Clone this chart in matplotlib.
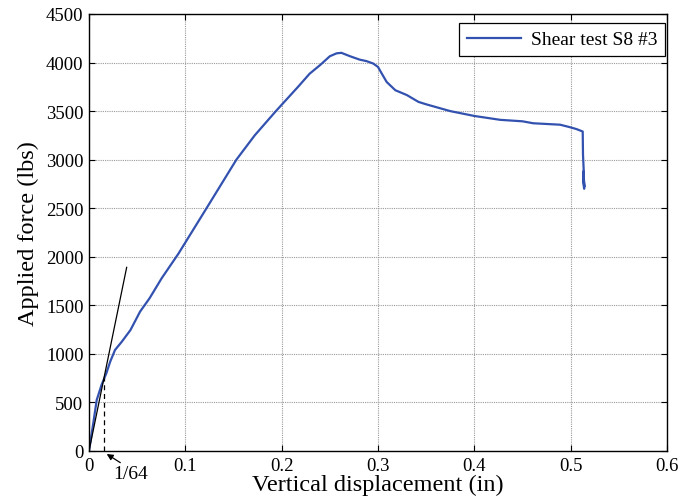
import matplotlib
matplotlib.use("Agg")
import matplotlib.pyplot as plt

# Load-displacement record, shear test S8 #3
disp = [0, 0.0045, 0.008, 0.013, 0.018, 0.022, 0.027, 0.034, 0.043, 0.053,
        0.063, 0.0755, 0.0927, 0.122, 0.153, 0.172, 0.194, 0.217,
        0.229, 0.240, 0.250, 0.257, 0.262, 0.271, 0.281, 0.288, 0.295, 0.300,
        0.304, 0.309, 0.318, 0.330, 0.342, 0.350, 0.375, 0.400, 0.427, 0.450,
        0.461, 0.489, 0.499, 0.506, 0.5125, 0.5128, 0.5135, 0.5130, 0.5140,
        0.5133, 0.5142, 0.5136]
force = [0, 290, 525, 680, 800, 920, 1040, 1125, 1245, 1435,
         1575, 1780, 2030, 2500, 3000, 3250, 3500, 3750,
         3885, 3975, 4065, 4095, 4100, 4065, 4030, 4015, 3990, 3955,
         3885, 3800, 3715, 3665, 3595, 3570, 3500, 3450, 3410, 3395,
         3375, 3360, 3335, 3315, 3290, 3050, 2900, 2780, 2700, 2880,
         2720, 2800]

# Initial stiffness line and 1/64 in offset marker
tangent_x = [0, 0.0391]
tangent_y = [0, 1891]
offset = 1 / 64

x_ticks = [0, 0.1, 0.2, 0.3, 0.4, 0.5, 0.6]
x_tick_labels = ["0", "0.1", "0.2", "0.3", "0.4", "0.5", "0.6"]
y_ticks = list(range(0, 4501, 500))

plt.rcParams["font.family"] = ["Liberation Serif", "DejaVu Serif"]

fig = plt.figure(figsize=(6.9, 5.02), dpi=100)
ax = fig.add_axes([89 / 690, 1 - 452 / 502, (667 - 89) / 690, (452 - 15) / 502])

ax.plot(disp, force, color="#3352b0", lw=1.6, label="Shear test S8 #3",
        solid_joinstyle="round")
ax.plot(tangent_x, tangent_y, color="black", lw=0.9)
slope = tangent_y[1] / tangent_x[1]
ax.plot([offset, offset], [0, slope * offset], color="black", lw=0.9,
        ls=(0, (4, 3)))

# Pointer to the offset marker with its label below the axis
ax.annotate("", xy=(0.0184, -31), xytext=(0.0325, -120),
            annotation_clip=False,
            arrowprops=dict(arrowstyle="-|>", color="black", lw=0.9,
                            shrinkA=0, shrinkB=0, mutation_scale=9))
ax.text(0.0435, -235, "1/64", fontsize=14, ha="center", va="center",
        clip_on=False)

ax.set_xlim(0, 0.6)
ax.set_ylim(0, 4500)
ax.set_xticks(x_ticks)
ax.set_xticklabels(x_tick_labels)
ax.set_yticks(y_ticks)
ax.tick_params(direction="in", labelsize=13.5, length=4, width=0.8,
               top=True, right=True, pad=4)
ax.grid(True, color="#9a9a9a", lw=0.8, ls=(0, (1, 1)))
for s in ax.spines.values():
    s.set_linewidth(1.0)

ax.set_xlabel("Vertical displacement (in)", fontsize=17.5, labelpad=0)
ax.set_ylabel("Applied force (lbs)", fontsize=17.5, labelpad=5)

leg = ax.legend(loc="upper right", bbox_to_anchor=(1.0, 1 - 7 / 437),
                fontsize=14, fancybox=False, edgecolor="black",
                framealpha=1, handlelength=2.8, handletextpad=0.5,
                borderpad=0.4, borderaxespad=0.1)
leg.get_frame().set_linewidth(0.9)

fig.savefig("out.png", dpi=100)
